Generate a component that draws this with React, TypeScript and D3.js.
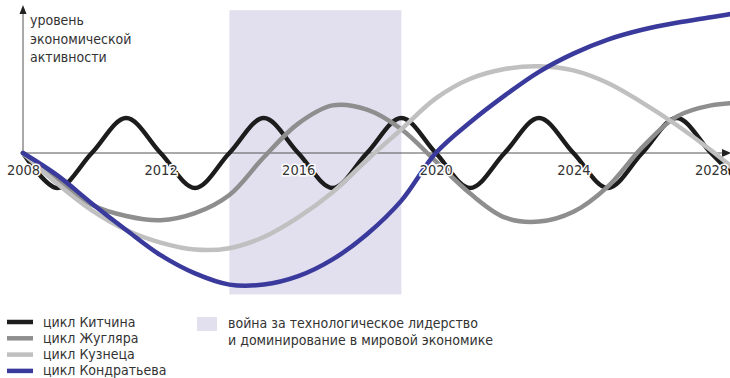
import React, { useEffect, useRef } from 'react';
import * as d3 from 'd3';

const years = [2008, 2009, 2010, 2011, 2012, 2013, 2014, 2015, 2016, 2017, 2018, 2019, 2020, 2021, 2022, 2023, 2024, 2025, 2026, 2027, 2028, 2029];

const kitchin = [0, -25, 0, 25, 0, -25, 0, 25, 0, -25, 0, 25, 0, -25, 0, 25, 0, -25, 0, 25, 0, -25];
const juglar = [0, -19, -37, -45, -48, -43, -30, -3, 21, 34, 31, 17, -6, -29, -46, -49, -42, -24, 4, 26, 34, 36];
const kuznets = [0, -22, -41, -55, -64, -69, -68, -60, -46, -28, -5, 17, 39, 53, 60, 62, 59, 50, 36, 20, 2, -18];
const kondratiev = [0, -16, -36, -55, -73, -86, -94, -94, -88, -76, -58, -34, 0, 22, 41, 58, 71, 81, 88, 93, 97, 101];

const tickYears = [2008, 2012, 2016, 2020, 2024, 2028];
const warYears = [2014, 2019];

const seriesNames = ['цикл Китчина', 'цикл Жугляра', 'цикл Кузнеца', 'цикл Кондратьева'];
const seriesColors = ['#1c1c1c', '#8e8e8e', '#c0c0c0', '#3a3a9c'];
const axisTitle = ['уровень', 'экономической', 'активности'];
const warLabel = ['война за технологическое лидерство', 'и доминирование в мировой экономике'];

const FONT = '"Liberation Sans Narrow", "DejaVu Sans Condensed", sans-serif';

const App = () => {
  const svgRef = useRef<SVGSVGElement>(null);

  useEffect(() => {
    const svg = d3.select(svgRef.current);
    svg.selectAll('*').remove();

    const x = d3.scaleLinear().domain([2008, 2028]).range([23, 711]);
    const y = d3.scaleLinear().domain([-100, 100]).range([293, 13]);

    // war band
    svg.append('rect')
      .attr('x', x(warYears[0]))
      .attr('y', y(102))
      .attr('width', x(warYears[1]) - x(warYears[0]))
      .attr('height', y(-101) - y(102))
      .attr('fill', '#e2e0ef');

    // axes lines
    const y0 = y(0);
    svg.append('line')
      .attr('x1', x(2008)).attr('x2', 722)
      .attr('y1', y0).attr('y2', y0)
      .attr('stroke', '#555').attr('stroke-width', 1);
    svg.append('path')
      .attr('d', `M722,${y0 - 4}L731,${y0}L722,${y0 + 4}Z`)
      .attr('fill', '#222');
    svg.append('line')
      .attr('x1', x(2008)).attr('x2', x(2008))
      .attr('y1', y0).attr('y2', 14)
      .attr('stroke', '#555').attr('stroke-width', 1);
    svg.append('path')
      .attr('d', `M${x(2008) - 3.5},14L${x(2008)},5L${x(2008) + 3.5},14Z`)
      .attr('fill', '#222');

    const allSeries = [kitchin, juglar, kuznets, kondratiev];
    const line = d3.line<number>()
      .x((d, i) => x(years[i]))
      .y(d => y(d))
      .curve(d3.curveCatmullRom.alpha(0.5));

    svg.append('g')
      .selectAll('path')
      .data(allSeries)
      .enter()
      .append('path')
      .attr('d', d => line(d))
      .attr('fill', 'none')
      .attr('stroke', (d, i) => seriesColors[i])
      .attr('stroke-width', 4.5)
      .attr('stroke-linecap', 'round');

    // year labels
    const xAxis = svg.append('g')
      .attr('transform', `translate(0,${y0})`)
      .call(d3.axisBottom(x).tickValues(tickYears).tickFormat(d3.format('d')).tickSize(0).tickPadding(12));
    xAxis.select('.domain').remove();
    xAxis.selectAll('text')
      .style('font-family', FONT)
      .style('font-size', '14.5px')
      .attr('fill', '#333')
      .attr('stroke', '#fff')
      .attr('stroke-width', 3)
      .attr('paint-order', 'stroke');

    // axis title
    svg.append('text')
      .style('font-family', FONT)
      .style('font-size', '14px')
      .attr('fill', '#333')
      .selectAll('tspan')
      .data(axisTitle)
      .enter()
      .append('tspan')
      .attr('x', 30)
      .attr('y', (d, i) => 25 + i * 18.5)
      .text(d => d);

    // legend
    const legend = svg.append('g').attr('transform', 'translate(0,322)');
    const items = legend.selectAll('g')
      .data(seriesNames)
      .enter()
      .append('g')
      .attr('transform', (d, i) => `translate(0,${i * 16.3})`);
    items.append('line')
      .attr('x1', 7).attr('x2', 33)
      .attr('y1', 0).attr('y2', 0)
      .attr('stroke', (d, i) => seriesColors[i])
      .attr('stroke-width', 4.5);
    items.append('text')
      .attr('x', 43)
      .attr('y', 4.5)
      .style('font-family', FONT)
      .style('font-size', '14px')
      .attr('fill', '#333')
      .text(d => d);

    legend.append('rect')
      .attr('x', 197).attr('y', -5)
      .attr('width', 20).attr('height', 14)
      .attr('fill', '#e2e0ef');
    legend.append('text')
      .style('font-family', FONT)
      .style('font-size', '14px')
      .attr('fill', '#333')
      .selectAll('tspan')
      .data(warLabel)
      .enter()
      .append('tspan')
      .attr('x', 228)
      .attr('y', (d, i) => 5.5 + i * 17)
      .text(d => d);
  }, []);

  return (
    <svg ref={svgRef} width={730} height={378} style={{ position: 'absolute', left: 0, top: 0, background: '#fff' }} />
  );
};

export default App;
